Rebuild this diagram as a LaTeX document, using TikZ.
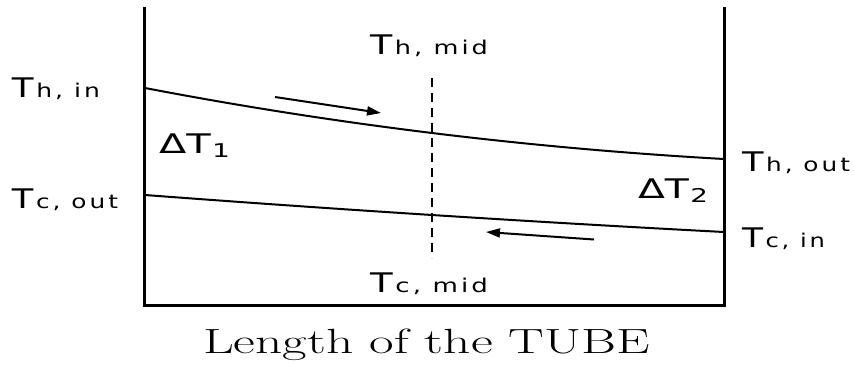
\documentclass[tikz,border=0pt]{standalone}
\usepackage{fontspec}
\usepackage{graphicx}
\newfontfamily\labfont{DejaVu Sans}
\newfontfamily\subfont[LetterSpace=12]{DejaVu Sans}
\usetikzlibrary{arrows.meta}
\newcommand{\tlab}[2]{\resizebox{#1}{\height}{\labfont\fontsize{27}{30}\selectfont T\hspace{2pt}\subfont\fontsize{19}{22}\selectfont #2}}
\newcommand{\dlab}[2]{\resizebox{#1}{\height}{\labfont\fontsize{27}{30}\selectfont ΔT\hspace{1pt}\raisebox{-4pt}{\subfont\fontsize{19}{22}\selectfont #2}}}
\tikzset{
  frame/.style={line width=3pt, line cap=rect},
  stream/.style={line width=2pt},
  flow/.style={line width=2pt, -{Triangle[length=14pt,width=9pt]}},
  midline/.style={line width=2.5pt, dash pattern=on 9pt off 6pt},
  lab/.style={anchor=base west, inner sep=0pt, outer sep=0pt}
}
\begin{document}
\begin{tikzpicture}[x=1pt,y=-1pt]
\useasboundingbox (0,0) rectangle (854,365);
% frame
\coordinate (ftl) at (144,8);
\coordinate (fbl) at (144,305);
\coordinate (fbr) at (724,305);
\coordinate (ftr) at (724,8);
\draw[frame] (ftl) -- (fbl) -- (fbr) -- (ftr);
% hot and cold curves
\coordinate (hin) at (145,88);
\coordinate (hout) at (724,159);
\coordinate (cout) at (145,195);
\coordinate (cin) at (724,232);
\draw[stream] (hin) .. controls (334.7,124.3) and (527.7,148) .. (hout);
\draw[stream] (cout) .. controls (334.7,209.3) and (527.7,221.7) .. (cin);
% mid dashed line
\coordinate (mtop) at (432,78);
\coordinate (mbot) at (432,258);
\draw[midline] (mtop) -- (mbot);
% flow arrows
\coordinate (a1s) at (275,97);
\coordinate (a1e) at (381,113);
\draw[flow] (a1s) -- (a1e);
\coordinate (a2s) at (594,239.5);
\coordinate (a2e) at (486,232);
\draw[flow] (a2s) -- (a2e);
% labels
\node[lab] (Thin) at (12,97) {\tlab{88pt}{h, in}};
\node[lab] (Tcout) at (12,208) {\tlab{106pt}{c, out}};
\node[lab] (Thmid) at (370,54) {\tlab{118pt}{h, mid}};
\node[lab] (Tcmid) at (370,292) {\tlab{118pt}{c, mid}};
\node[lab] (Thout) at (742,171) {\tlab{108pt}{h, out}};
\node[lab] (Tcin) at (742,247) {\tlab{83pt}{c, in}};
\node[lab] (dT1) at (159,153) {\dlab{71pt}{1}};
\node[lab] (dT2) at (638,198) {\dlab{70pt}{2}};
\node[lab] (len) at (203,353) {\resizebox{447pt}{\height}{\fontsize{35}{40}\selectfont Length of the TUBE}};
\end{tikzpicture}
\end{document}
